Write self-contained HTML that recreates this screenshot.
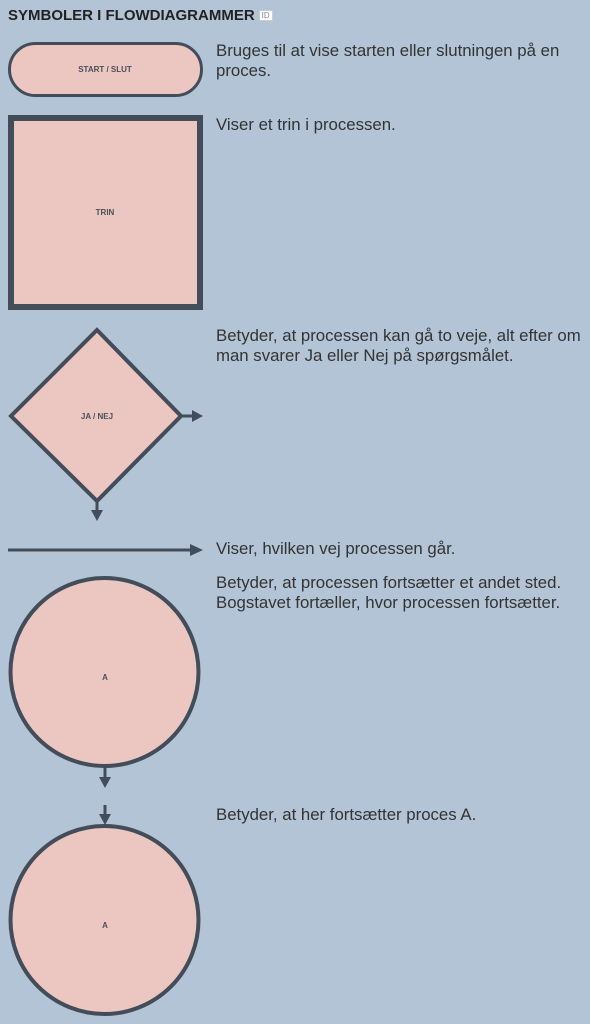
<!DOCTYPE html>
<html><head><meta charset="utf-8"><style>
body{margin:0;width:590px;height:1024px;background:#b3c4d6;position:relative;overflow:hidden;font-family:"Liberation Sans",Arial,sans-serif;color:#333;}
.t{position:absolute;left:216px;font-size:16.8px;line-height:20px;white-space:nowrap;}
h1{position:absolute;left:8px;top:7px;margin:0;font-size:15px;font-weight:bold;color:#222;}
.id{display:inline-block;font-size:8px;font-weight:normal;color:#889;background:#fff;border:1px solid #ccc;padding:0 2px;vertical-align:2px;margin-left:4px;line-height:9px;}
svg{position:absolute;left:0;top:0}
</style></head><body>
<h1>SYMBOLER I FLOWDIAGRAMMER<span class="id">ID</span></h1>
<svg width="590" height="1024" font-family="Liberation Sans, Arial, sans-serif" font-weight="bold" font-size="8" fill="#434d5a">
<rect x="9.5" y="43.5" width="192" height="52" rx="26" fill="#ecc7c1" stroke="#434d5a" stroke-width="3"/>
<text x="105" y="72" text-anchor="middle" fill="#4a4f5a">START / SLUT</text>
<rect x="11" y="118" width="189" height="189" fill="#ecc7c1" stroke="#434d5a" stroke-width="6"/>
<text x="105" y="215" text-anchor="middle" fill="#4a4f5a">TRIN</text>
<polygon points="97,330 181,416 97,501 11,416" fill="#ecc7c1" stroke="#434d5a" stroke-width="4"/>
<text x="97" y="419" text-anchor="middle" fill="#4a4f5a">JA / NEJ</text>
<line x1="181" y1="416" x2="194" y2="416" stroke="#434d5a" stroke-width="3"/>
<polygon points="192,410 203,416 192,422" fill="#434d5a"/>
<line x1="97" y1="501" x2="97" y2="512" stroke="#434d5a" stroke-width="3"/>
<polygon points="91,510 97,521 103,510" fill="#434d5a"/>
<line x1="8" y1="550" x2="193" y2="550" stroke="#434d5a" stroke-width="3"/>
<polygon points="190,544 203,550 190,556" fill="#434d5a"/>
<circle cx="104.5" cy="672" r="94" fill="#ecc7c1" stroke="#434d5a" stroke-width="4"/>
<text x="105" y="680" text-anchor="middle" fill="#4a4f5a">A</text>
<line x1="105" y1="766" x2="105" y2="779" stroke="#434d5a" stroke-width="3"/>
<polygon points="99,777 105,788 111,777" fill="#434d5a"/>
<line x1="105" y1="805" x2="105" y2="816" stroke="#434d5a" stroke-width="3"/>
<polygon points="99,814 105,825 111,814" fill="#434d5a"/>
<circle cx="104.5" cy="920" r="94" fill="#ecc7c1" stroke="#434d5a" stroke-width="4"/>
<text x="105" y="928" text-anchor="middle" fill="#4a4f5a">A</text>
</svg>
<div class="t" style="top:41px">Bruges til at vise starten eller slutningen på en<br>proces.</div>
<div class="t" style="top:115px">Viser et trin i processen.</div>
<div class="t" style="top:326px">Betyder, at processen kan gå to veje, alt efter om<br>man svarer Ja eller Nej på spørgsmålet.</div>
<div class="t" style="top:539px">Viser, hvilken vej processen går.</div>
<div class="t" style="top:573px">Betyder, at processen fortsætter et andet sted.<br>Bogstavet fortæller, hvor processen fortsætter.</div>
<div class="t" style="top:805px">Betyder, at her fortsætter proces A.</div>
</body></html>
